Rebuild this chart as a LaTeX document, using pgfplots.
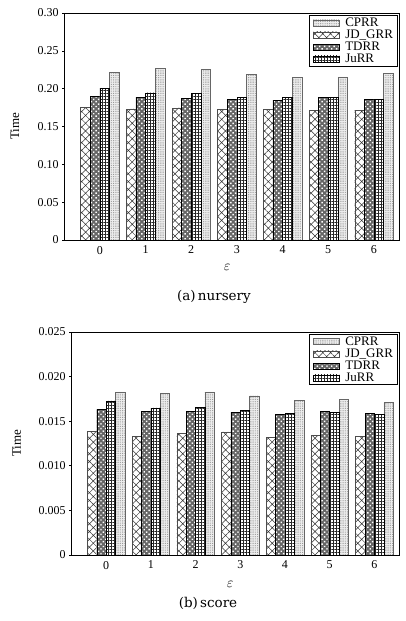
\documentclass[border=0pt]{standalone}
\usepackage{fontspec}
\setmainfont{Liberation Serif}
\newfontfamily\capfont{DejaVu Serif}
\usepackage{pgfplots}
\pgfplotsset{compat=1.18}
\usetikzlibrary{patterns,patterns.meta}

\pgfplotstableread{
x CPRR JD TDRR JuRR
0 0.2219 0.1756 0.1897 0.2007
1 0.2268 0.1734 0.1888 0.1946
2 0.2254 0.1747 0.1871 0.1937
3 0.2193 0.1725 0.1862 0.1888
4 0.2149 0.1725 0.1849 0.1884
5 0.2157 0.1716 0.1884 0.1884
6 0.2201 0.1716 0.1860 0.1860
}\nursery

\pgfplotstableread{
x CPRR JD TDRR JuRR
0 0.01828 0.01388 0.01634 0.01728
1 0.01813 0.01332 0.01612 0.01649
2 0.01828 0.01362 0.01612 0.01657
3 0.01784 0.01381 0.01601 0.01623
4 0.01731 0.01321 0.01578 0.01586
5 0.01746 0.01343 0.01612 0.01597
6 0.01709 0.01328 0.01586 0.01575
}\score

\pgfplotsset{
  cprr/.style={draw=gray!80!black, fill=gray!15, postaction={pattern={Dots[distance=1.8pt, radius=0.35pt]}, pattern color=gray!70!black}},
  jdgrr/.style={draw=gray!60!black, fill=white, postaction={pattern={Hatch[angle=45, distance=5.5pt, line width=0.5pt]}, pattern color=black!80}},
  tdrr/.style={draw=black, fill=black!60, postaction={pattern={Dots[angle=45, distance=3.4pt, radius=1.0pt]}, pattern color=white}},
  jurr/.style={draw=black, fill=white, postaction={pattern={Hatch[angle=0, distance=3pt, line width=0.45pt]}, pattern color=black!85}},
  mybars/.style={
    scale only axis,
    ybar, bar width=0.21,
    xmin=-0.77, xmax=6.55,
    xtick={0,...,6},
    tick align=outside,
    major tick length=2.5pt,
    xtick pos=bottom, ytick pos=left,
    xtick style={draw=none},
    axis line style={line width=0.9pt},
    tick style={black, line width=0.6pt},
    /pgf/number format/assume math mode=true,
    tick label style={font=\fontsize{12}{13}\selectfont},
    ylabel={Time},
    ylabel style={font=\fontsize{13}{14}\selectfont, anchor=center},
    xlabel={$\varepsilon$},
    xlabel style={font=\fontsize{14}{15}\selectfont, anchor=center},
    legend style={at={(rel axis cs:0.995,0.99)}, anchor=north east, draw=black, line width=0.8pt,
      font=\fontsize{13}{13}\selectfont, row sep=0pt, inner xsep=3pt, inner ysep=1pt,
      nodes={inner sep=1pt}, cells={anchor=west},
      /tikz/every odd column/.append style={column sep=5pt}},
    legend image code/.code={\draw[##1, line width=0.4pt] (0pt,-3pt) rectangle (26pt,3pt);},
    ymin=0,
  },
}

\begin{document}
\begin{tikzpicture}
\useasboundingbox (0pt,0pt) rectangle (406pt,621pt);
\begin{axis}[mybars,
  at={(64.7pt,381pt)}, anchor=south west,
  width=334.3pt, height=227pt,
  ymax=0.30,
  ytick={0,0.05,0.10,0.15,0.20,0.25,0.30},
  yticklabels={0,0.05,0.10,0.15,0.20,0.25,0.30},
  ylabel style={at={(axis description cs:-0.149,0.5)}},
  xlabel style={at={(axis description cs:0.486,-0.119)}},
]
\addplot[cprr, bar shift=0.315] table[x=x,y=CPRR] {\nursery};
\addplot[jdgrr, bar shift=-0.315] table[x=x,y=JD] {\nursery};
\addplot[tdrr, bar shift=-0.105] table[x=x,y=TDRR] {\nursery};
\addplot[jurr, bar shift=0.105] table[x=x,y=JuRR] {\nursery};
\legend{CPRR,JD\_GRR,TDRR,JuRR}
\end{axis}
\node[font=\capfont\fontsize{13.5}{14}\selectfont] at (214pt,324pt) {(a)\,nursery};

\begin{axis}[mybars,
  at={(71.7pt,66pt)}, anchor=south west,
  width=327.3pt, height=223pt,
  ymax=0.025,
  ytick={0,0.005,0.010,0.015,0.020,0.025},
  yticklabels={0,0.005,0.010,0.015,0.020,0.025},
  scaled y ticks=false,
  ylabel style={at={(axis description cs:-0.168,0.5)}},
  xlabel style={at={(axis description cs:0.484,-0.13)}},
]
\addplot[cprr, bar shift=0.315] table[x=x,y=CPRR] {\score};
\addplot[jdgrr, bar shift=-0.315] table[x=x,y=JD] {\score};
\addplot[tdrr, bar shift=-0.105] table[x=x,y=TDRR] {\score};
\addplot[jurr, bar shift=0.105] table[x=x,y=JuRR] {\score};
\legend{CPRR,JD\_GRR,TDRR,JuRR}
\end{axis}
\node[font=\capfont\fontsize{13.5}{14}\selectfont] at (208pt,18pt) {(b)\,score};
\end{tikzpicture}
\end{document}
